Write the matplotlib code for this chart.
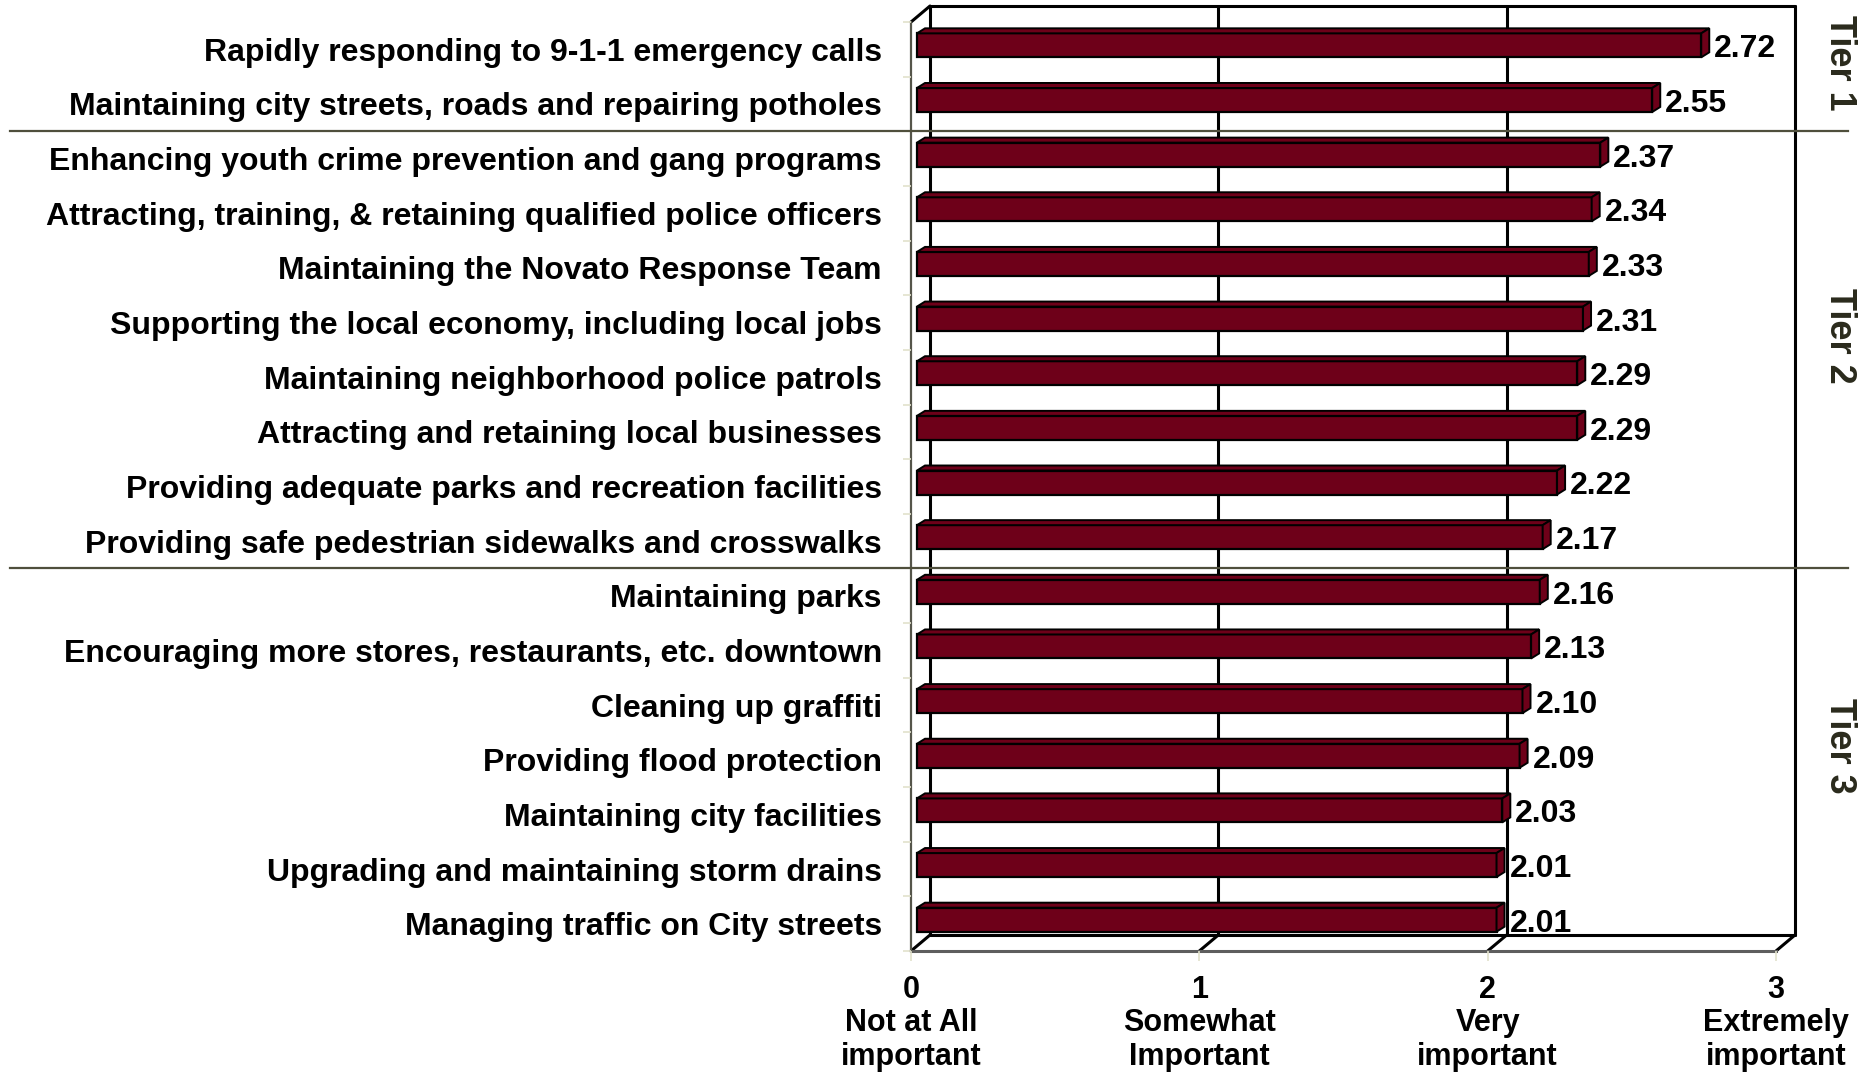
import matplotlib.pyplot as plt
from matplotlib.patches import Polygon
from matplotlib.transforms import blended_transform_factory

categories = [
    'Rapidly responding to 9-1-1 emergency calls',
    'Maintaining city streets, roads and repairing potholes',
    'Enhancing youth crime prevention and gang programs',
    'Attracting, training, & retaining qualified police officers',
    'Maintaining the Novato Response Team',
    'Supporting the local economy, including local jobs',
    'Maintaining neighborhood police patrols',
    'Attracting and retaining local businesses',
    'Providing adequate parks and recreation facilities',
    'Providing safe pedestrian sidewalks and crosswalks',
    'Maintaining parks',
    'Encouraging more stores, restaurants, etc. downtown',
    'Cleaning up graffiti',
    'Providing flood protection',
    'Maintaining city facilities',
    'Upgrading and maintaining storm drains',
    'Managing traffic on City streets',
]
scores = [2.72, 2.55, 2.37, 2.34, 2.33, 2.31, 2.29, 2.29, 2.22, 2.17,
          2.16, 2.13, 2.10, 2.09, 2.03, 2.01, 2.01]
tiers = ['Tier 1', 'Tier 2', 'Tier 3']
tier_sizes = [2, 8, 7]
scale_ticks = [0, 1, 2, 3]
scale_labels = ['Not at All\nimportant', 'Somewhat\nImportant',
                'Very\nimportant', 'Extremely\nimportant']

plt.rcParams['font.family'] = ['Liberation Sans', 'DejaVu Sans']
plt.rcParams['font.weight'] = 'bold'

W, H = 1863, 1072
fig = plt.figure(figsize=(W / 100, H / 100), dpi=100)

# front plane of the box (pixels from top-left)
left, right, top, bottom = 911, 1776, 22, 951
ax = fig.add_axes([left / W, 1 - bottom / H, (right - left) / W, (bottom - top) / H])

n = len(scores)
xmax = scale_ticks[-1]
ax.set_xlim(0, xmax)
ax.set_ylim(n - 0.5, -0.5)
for s in ax.spines.values():
    s.set_visible(False)

# data units per pixel
px = xmax / (right - left)
py = n / (bottom - top)

# depth of the walls and of the bars
wdx, wdy = 19 * px, 16 * py
bdx, bdy = 8 * px, 5 * py
fdx, fdy = 6 * px, 4 * py
bar_h = 24 * py

line_kw = dict(color='black', lw=2.2, solid_capstyle='round', zorder=1, clip_on=False)

# back wall gridlines and top edge
for x in scale_ticks:
    ax.plot([x + wdx, x + wdx], [n - 0.5 - wdy, -0.5 - wdy], **line_kw)
ax.plot([wdx, xmax + wdx], [-0.5 - wdy, -0.5 - wdy], **line_kw)
ax.plot([0, wdx], [-0.5, -0.5 - wdy], **line_kw)

# floor
ax.plot([wdx, xmax + wdx], [n - 0.5 - wdy, n - 0.5 - wdy], **line_kw)
for x in scale_ticks:
    ax.plot([x, x + wdx], [n - 0.5, n - 0.5 - wdy], **line_kw)
ax.plot([0, xmax], [n - 0.5, n - 0.5], color='#5e5e5e', lw=2.2, zorder=1, clip_on=False)
ax.plot([0, 0], [-0.5, n - 0.5], color='#55554a', lw=1.6, zorder=1, clip_on=False)

# bars: front face, then top and side faces
ypos = [i - fdy for i in range(n)]
bar_color = '#6e0019'
ax.barh(ypos, scores, height=bar_h, left=fdx, color=bar_color,
        edgecolor='black', linewidth=1.6, zorder=3)
for y, v in zip(ypos, scores):
    x0, x1 = fdx, v + fdx
    yt, yb = y - bar_h / 2, y + bar_h / 2
    ax.add_patch(Polygon([(x0, yt), (x0 + bdx, yt - bdy), (x1 + bdx, yt - bdy), (x1, yt)],
                         closed=True, fc=bar_color, ec='black', lw=1.4, zorder=3))
    ax.add_patch(Polygon([(x1, yt), (x1 + bdx, yt - bdy), (x1 + bdx, yb - bdy), (x1, yb)],
                         closed=True, fc=bar_color, ec='black', lw=1.4, zorder=3))
    ax.text(x1 + bdx + 5 * px, y + 4 * py, f'{v:.2f}', ha='left', va='center',
            fontsize=23, fontweight='bold', color='black', zorder=4)

# axis labels
ax.set_yticks(range(n), categories, fontsize=23, fontweight='bold')
ax.set_yticks([i + 0.5 for i in range(-1, n)], minor=True)
ax.tick_params(axis='y', which='major', length=0, pad=21)
ax.tick_params(axis='y', which='minor', length=6, color='#e2e2cc', width=1.2)
ax.set_xticks(scale_ticks, [f'{t}\n{lab}' for t, lab in zip(scale_ticks, scale_labels)],
              fontsize=22, fontweight='bold', linespacing=1.15)
ax.tick_params(axis='x', length=7, color='#e2e2cc', width=1.2, pad=10)

# tier separators and labels
tr = blended_transform_factory(fig.transFigure, ax.transData)
start = 0
for name, size in zip(tiers, tier_sizes):
    if start > 0:
        ax.plot([10 / W, 1848 / W], [start - 0.5, start - 0.5], transform=tr,
                color='#4f4f3c', lw=1.6, clip_on=False, zorder=2)
    mid = start + (size - 1) / 2 - 14 * py
    ax.text(1840 / W, mid, name, transform=tr, rotation=270, ha='center', va='center',
            fontsize=26, fontweight='bold', color='#2a2a1c')
    start += size

fig.savefig('out.png', dpi=100)
